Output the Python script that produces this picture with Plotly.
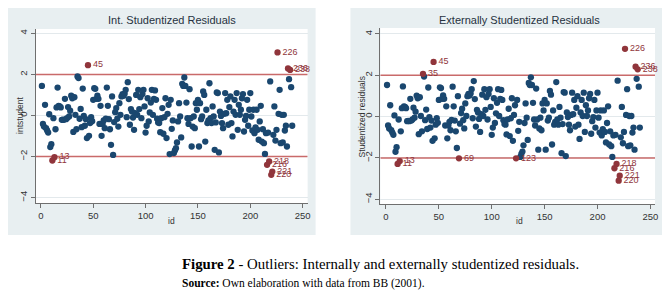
import plotly.graph_objects as go

# ---------------- data ----------------
ids = list(range(1, 241))

int_student = [
    1.44, -0.41, -0.54, 0.52, -0.62, -0.73, -0.83, 0.06, -1.54, -1.40,
    -2.19, -0.13, -2.03, -0.67, 0.39, 1.36, 0.47, 0.44, 0.39, -0.21,
    -0.20, -0.21, 0.81, -0.18, -0.13, 0.41, -0.05, 0.23, 0.96, 0.84,
    -0.80, 0.89, 0.03, -0.67, 1.90, 1.82, -0.16, 0.32, -0.57, 1.31,
    -0.02, -0.50, -0.18, -1.10, 2.45, -0.99, -0.37, -0.08, -0.28, 0.76,
    1.33, 1.30, 0.81, 0.97, 0.81, -0.41, 0.47, -0.99, -0.41, -0.24,
    -0.62, -0.15, 1.36, 0.47, -0.18, -0.67, -1.43, 0.93, -1.92, -0.32,
    0.16, 0.36, -0.16, -0.54, 0.60, 0.03, 0.93, 1.04, 0.96, 1.06,
    1.25, -0.08, 1.62, 0.80, -0.45, 0.31, 0.19, -0.10, -0.70, 0.11,
    1.00, 0.03, 1.25, 0.31, 0.89, -0.13, 1.04, 1.25, 0.44, -0.83,
    -0.50, 0.84, -0.29, 0.15, 0.63, 1.25, 0.03, 0.81, 1.22, 0.76,
    -0.16, -0.34, -0.37, -0.81, -0.13, 0.36, -0.89, -0.08, 0.84, -1.10,
    0.08, 0.52, -1.88, 0.76, -0.65, -0.24, -1.83, -1.70, -1.59, -1.31,
    -0.29, 0.60, -0.05, -1.07, 1.54, 1.44, 1.85, 1.44, 0.63, -0.13,
    -0.41, 1.28, -0.13, -1.51, -0.54, -0.05, -0.62, 0.60, 0.28, 0.76,
    -1.51, 0.60, -0.18, -0.05, 1.17, 1.00, -1.27, 0.28, -0.37, -0.24,
    1.57, -0.13, -0.37, 0.44, -0.05, -1.67, -0.34, 1.12, 1.09, -1.80,
    0.19, -0.02, -0.37, -0.62, 0.08, 1.09, 0.11, 0.76, -0.45, 0.41,
    0.93, -0.37, -1.02, 0.19, 0.76, 0.03, 1.09, -0.70, 0.52, 0.03,
    0.28, 0.84, 1.04, -0.78, -0.21, -0.02, 0.76, -0.50, 0.28, 1.09,
    -0.05, -0.73, 0.28, -0.86, -0.58, 0.28, -0.70, -1.18, -0.29, 0.47,
    -1.27, -0.67, -1.35, -1.87, -0.86, -2.40, -0.83, -2.24, 1.66, -2.89,
    -2.73, -0.94, 0.44, -1.22, -0.70, 3.07, 0.08, 1.25, -1.35, 0.03,
    -1.31, 0.03, -0.73, -0.50, -1.51, 2.29, 1.77, 2.22, 1.38, -0.50,
]

ext_student = [
    1.53, -0.43, -0.57, 0.55, -0.66, -0.77, -0.88, 0.06, -1.70, -1.48,
    -2.29, -0.14, -2.15, -0.71, 0.41, 1.46, 0.50, 0.47, 0.41, -0.22,
    -0.21, -0.22, 0.86, -0.19, -0.14, 0.43, -0.05, 0.24, 1.02, 0.89,
    -0.85, 0.94, 0.03, -0.71, 2.07, 1.94, -0.17, 0.34, -0.60, 1.41,
    -0.02, -0.53, -0.19, -1.17, 2.65, -1.05, -0.39, -0.08, -0.30, 0.81,
    1.42, 1.38, 0.86, 1.03, 0.86, -0.43, 0.50, -1.05, -0.43, -0.25,
    -0.66, -0.16, 1.45, 0.50, -0.19, -0.71, -1.52, 0.99, -2.02, -0.34,
    0.17, 0.38, -0.17, -0.57, 0.64, 0.03, 0.99, 1.10, 1.02, 1.12,
    1.33, -0.08, 1.72, 0.85, -0.48, 0.33, 0.20, -0.11, -0.74, 0.12,
    1.06, 0.03, 1.33, 0.33, 0.94, -0.14, 1.10, 1.33, 0.47, -0.88,
    -0.53, 0.89, -0.31, 0.16, 0.67, 1.33, 0.03, 0.86, 1.29, 0.81,
    -0.17, -0.36, -0.39, -0.86, -0.14, 0.38, -0.94, -0.08, 0.89, -1.17,
    0.08, 0.55, -2.02, 0.81, -0.69, -0.25, -1.95, -1.81, -1.69, -1.39,
    -0.31, 0.64, -0.05, -1.13, 1.63, 1.53, 1.90, 1.53, 0.67, -0.14,
    -0.43, 1.36, -0.14, -1.60, -0.57, -0.05, -0.66, 0.64, 0.30, 0.81,
    -1.60, 0.64, -0.19, -0.05, 1.24, 1.06, -1.35, 0.30, -0.39, -0.25,
    1.67, -0.14, -0.39, 0.47, -0.05, -1.77, -0.36, 1.19, 1.16, -1.91,
    0.20, -0.02, -0.39, -0.66, 0.08, 1.16, 0.12, 0.81, -0.48, 0.43,
    0.99, -0.39, -1.08, 0.20, 0.81, 0.03, 1.16, -0.74, 0.55, 0.03,
    0.30, 0.89, 1.10, -0.83, -0.22, -0.02, 0.81, -0.53, 0.30, 1.16,
    -0.05, -0.77, 0.30, -0.91, -0.61, 0.30, -0.74, -1.25, -0.31, 0.50,
    -1.35, -0.71, -1.43, -1.95, -0.91, -2.50, -0.88, -2.29, 1.74, -3.10,
    -2.86, -1.00, 0.47, -1.29, -0.74, 3.28, 0.08, 1.33, -1.43, 0.03,
    -1.39, 0.03, -0.77, -0.53, -1.60, 2.42, 1.83, 2.29, 1.45, -0.53,
]

int_outliers = [11, 13, 45, 216, 218, 220, 221, 226, 236, 238]
ext_outliers = [11, 13, 35, 45, 69, 123, 216, 218, 220, 221, 226, 236, 238]

x_ticks = [0, 50, 100, 150, 200, 250]
y_ticks = [-4, -2, 0, 2, 4]
thresholds = [-2, 2]

panel_titles = ["Int. Studentized Residuals", "Externally Studentized Residuals"]
y_titles = ["intstudent", "Studentized residuals"]
x_title = "id"
caption_main = "<b>Figure 2</b> - Outliers: Internally and externally studentized residuals."
caption_src = "<b>Source:</b> Own elaboration with data from BB (2001)."

# ---------------- styling / layout ----------------
# the page body has an 8px default margin: the figure is sized to the
# remaining visible area and all layout positions are given in window pixels
OFF = 8
W, H = 670 - OFF, 293 - OFF
NAVY = "#1a476f"
MAROON = "#90353b"
RED = "#c96a6a"
PANEL_BG = "#e8eff1"
SANS = "Liberation Sans, Arial, sans-serif"
SERIF = "Liberation Serif, Times New Roman, serif"


def fx(p):
    return (p - OFF) / W


def fy(p):
    return 1 - (p - OFF) / H


panels = [
    dict(vals=int_student, outl=int_outliers, gray=(5, 5, 317, 235),
         plot=(36, 29, 309, 203), xr=[-4.75, 254.75], yr=[-4.26, 4.21],
         title_xy=(173, 20), ytitle_xy=(20, 115), xtitle_xy=(172, 221)),
    dict(vals=ext_student, outl=ext_outliers, gray=(352, 5, 667, 235),
         plot=(382, 28, 658, 204), xr=[-5.37, 254.4], yr=[-4.23, 4.29],
         title_xy=(522, 20), ytitle_xy=(364, 117), xtitle_xy=(522, 221)),
]

fig = go.Figure()
shapes = []
annotations = []
layout_axes = {}

for i, p in enumerate(panels):
    n = "" if i == 0 else str(i + 1)
    xa, ya = "x" + n, "y" + n
    gx0, gy0, gx1, gy1 = p["gray"]
    shapes.append(dict(type="rect", xref="paper", yref="paper", layer="below",
                       x0=fx(gx0), x1=fx(gx1), y0=fy(gy1), y1=fy(gy0),
                       fillcolor=PANEL_BG, line=dict(width=0)))
    px0, py0, px1, py1 = p["plot"]
    shapes.append(dict(type="rect", xref="paper", yref="paper", layer="below",
                       x0=fx(px0), x1=fx(px1), y0=fy(py1), y1=fy(py0),
                       fillcolor="white", line=dict(width=0)))

    for t in thresholds:
        fig.add_trace(go.Scatter(x=p["xr"], y=[t, t], mode="lines",
                                 line=dict(color=RED, width=1.5),
                                 xaxis=xa, yaxis=ya, hoverinfo="skip",
                                 showlegend=False))

    normal_x = [k for k, v in zip(ids, p["vals"]) if k not in p["outl"]]
    normal_y = [v for k, v in zip(ids, p["vals"]) if k not in p["outl"]]
    out_x = [k for k, v in zip(ids, p["vals"]) if k in p["outl"]]
    out_y = [v for k, v in zip(ids, p["vals"]) if k in p["outl"]]

    fig.add_trace(go.Scatter(x=normal_x, y=normal_y, mode="markers",
                             marker=dict(color=NAVY, size=6.3, line=dict(width=0)),
                             xaxis=xa, yaxis=ya, showlegend=False))
    fig.add_trace(go.Scatter(x=out_x, y=out_y, mode="markers+text",
                             text=[str(k) for k in out_x],
                             textposition="middle right",
                             textfont=dict(family=SANS, size=9, color=MAROON),
                             marker=dict(color=MAROON, size=6.3, line=dict(width=0)),
                             xaxis=xa, yaxis=ya, showlegend=False, cliponaxis=False))

    axis_common = dict(showline=True, linecolor="#6f6f6f", linewidth=1,
                       ticks="outside", ticklen=4, tickcolor="#6f6f6f",
                       tickfont=dict(family=SANS, size=9.5, color="#333333"),
                       zeroline=False, mirror=False)
    layout_axes["xaxis" + n] = dict(axis_common, domain=[fx(px0), fx(px1)],
                                    range=p["xr"], tickvals=x_ticks,
                                    showgrid=False, anchor=ya)
    layout_axes["yaxis" + n] = dict(axis_common, domain=[fy(py1), fy(py0)],
                                    range=p["yr"], tickvals=y_ticks,
                                    tickangle=-90, showgrid=True,
                                    gridcolor="#e3e9ec", gridwidth=1, anchor=xa)

    tx, ty = p["title_xy"]
    annotations.append(dict(text=panel_titles[i], x=fx(tx), y=fy(ty), xref="paper",
                            yref="paper", showarrow=False, xanchor="center",
                            yanchor="middle",
                            font=dict(family=SANS, size=11, color="#26323f")))
    yx, yy = p["ytitle_xy"]
    annotations.append(dict(text=y_titles[i], x=fx(yx), y=fy(yy), xref="paper",
                            yref="paper", showarrow=False, textangle=-90,
                            xanchor="center", yanchor="middle",
                            font=dict(family=SANS, size=8.5, color="#333333")))
    xx, xy = p["xtitle_xy"]
    annotations.append(dict(text=x_title, x=fx(xx), y=fy(xy), xref="paper",
                            yref="paper", showarrow=False, xanchor="center",
                            yanchor="middle",
                            font=dict(family=SANS, size=8.5, color="#333333")))

annotations.append(dict(text=caption_main, x=fx(181), y=fy(264), xref="paper",
                        yref="paper", showarrow=False, xanchor="left", yanchor="middle",
                        font=dict(family=SERIF, size=14.8, color="black")))
annotations.append(dict(text=caption_src, x=fx(181), y=fy(283), xref="paper",
                        yref="paper", showarrow=False, xanchor="left", yanchor="middle",
                        font=dict(family=SERIF, size=11.5, color="black")))

fig.update_layout(width=W, height=H, margin=dict(l=0, r=0, t=0, b=0),
                  paper_bgcolor="white", plot_bgcolor="white",
                  shapes=shapes, annotations=annotations, showlegend=False,
                  **layout_axes)

fig.write_html("out.html")
